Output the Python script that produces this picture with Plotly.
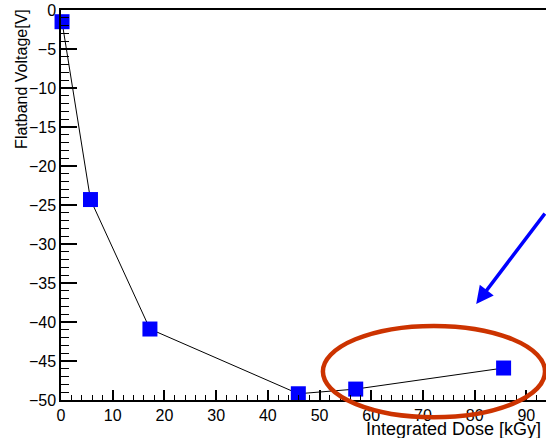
import plotly.graph_objects as go

dose_kgy = [0.2, 5.7, 17.2, 45.9, 57.0, 85.6]
flatband_v = [-1.5, -24.3, -40.9, -49.2, -48.6, -45.9]

x_range = [0, 93.8]
y_range = [-50, 0]

FONT = "Liberation Sans, Arial, Helvetica, sans-serif"

fig = go.Figure()
fig.add_trace(go.Scatter(
    x=dose_kgy, y=flatband_v, mode="lines+markers",
    line=dict(color="black", width=1),
    marker=dict(symbol="square", size=15, color="#0000ff", line=dict(width=0)),
    cliponaxis=False, showlegend=False,
))

fig.update_layout(
    width=546, height=438,
    margin=dict(l=61, r=0, t=10, b=38),
    paper_bgcolor="white", plot_bgcolor="white",
    font=dict(family=FONT, color="black"),
    xaxis=dict(range=x_range, showline=True, linecolor="black", linewidth=1.5,
               mirror=True, ticks="inside", ticklen=10, tickwidth=1.5, tickcolor="black",
               dtick=10, tick0=0, showgrid=False, zeroline=False,
               tickfont=dict(size=16, family=FONT),
               minor=dict(ticks="inside", ticklen=5, dtick=2, tickcolor="black", tickwidth=1.2)),
    yaxis=dict(range=y_range, showline=True, linecolor="black", linewidth=1.5,
               mirror=False, ticks="inside", ticklen=16, tickwidth=1.5, tickcolor="black",
               dtick=5, tick0=0, showgrid=False, zeroline=False,
               tickfont=dict(size=16, family=FONT),
               minor=dict(ticks="inside", ticklen=8, dtick=1, tickcolor="black", tickwidth=1.2)),
)

# axis titles (ROOT style: placed at axis ends)
fig.add_annotation(text="Flatband Voltage[V]", xref="paper", yref="paper",
                   x=-0.0804, y=1.008, xanchor="center", yanchor="top",
                   textangle=-90, showarrow=False, font=dict(size=16, family=FONT))
fig.add_annotation(text="Integrated Dose [kGy]", xref="paper", yref="paper",
                   x=0.994, y=-0.074, xanchor="right", yanchor="middle",
                   showarrow=False, font=dict(size=18, family=FONT))

# red ellipse highlight
fig.add_shape(type="circle", xref="paper", yref="paper",
              x0=0.540, x1=0.998, y0=-0.044, y1=0.190,
              line=dict(color="#cc3300", width=4.5), layer="above")

# blue arrow
fig.add_annotation(text="", xref="paper", yref="paper",
                   x=0.856, y=0.246, ax=76, ay=-92, axref="pixel", ayref="pixel",
                   showarrow=True, arrowhead=2, arrowsize=1, arrowwidth=3.5,
                   arrowcolor="#0000ff")

fig.write_html("out.html", config={"displayModeBar": False},
               post_script="document.body.style.margin='0';document.body.style.overflow='hidden';")
